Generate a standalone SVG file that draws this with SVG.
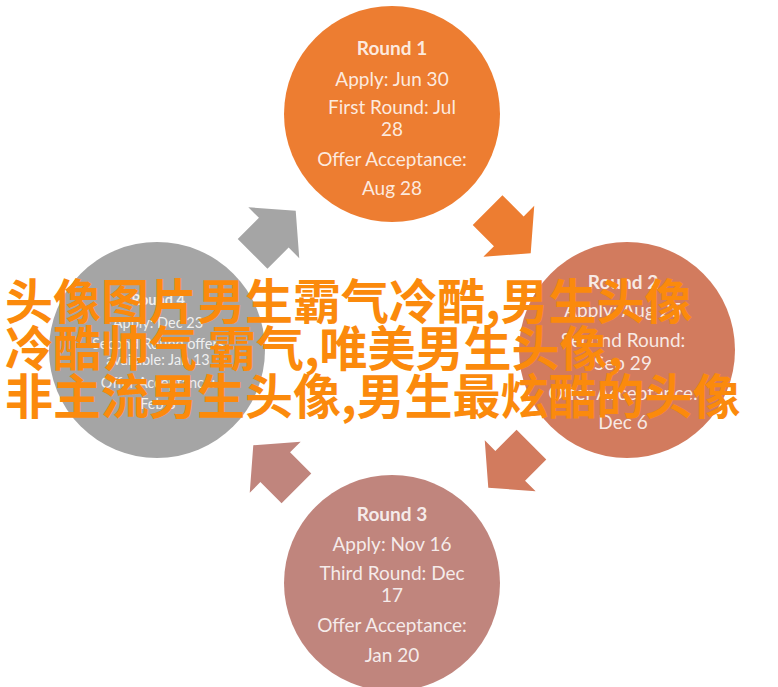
<svg xmlns="http://www.w3.org/2000/svg" width="778" height="687" viewBox="0 0 778 687">
<defs>
<style>
.t{font-family:Lato,"Liberation Sans",sans-serif;font-size:19px;fill:#ffffff;fill-opacity:0.85;text-anchor:middle}
.h{font-weight:bold;font-size:19px}
.s{font-size:14.5px}
.hs{font-weight:bold;font-size:14.5px}
.cn{font-family:"Noto Sans CJK SC","Noto Sans CJK JP",sans-serif;font-weight:bold;font-size:48px;fill:#fb8a0c}
</style>
<path id="arr" d="M-31,-21 L-1,-21 L-1,-36 L30,0 L-1,36 L-1,21 L-31,21 Z"/>
</defs>
<rect width="778" height="687" fill="#ffffff"/>
<g id="connectors">
<use href="#arr" fill="#a5a5a5" transform="translate(274.5,232) rotate(-45)"/>
<use href="#arr" fill="#ed7d31" transform="translate(509.5,232) rotate(45)"/>
<use href="#arr" fill="#d27b5e" transform="translate(509.5,466.5) rotate(135)"/>
<use href="#arr" fill="#c0857d" transform="translate(274.5,466.5) rotate(-135)"/>
</g>
<g id="round1">
<circle cx="392" cy="114" r="108" fill="#ed7d31"/>
<text class="t h" x="392" y="55">Round 1</text>
<text class="t" x="392" y="86">Apply: Jun 30</text>
<text class="t" x="392" y="114">First Round: Jul</text>
<text class="t" x="392" y="136">28</text>
<text class="t" x="392" y="166">Offer Acceptance:</text>
<text class="t" x="392" y="195">Aug 28</text>
</g>
<g id="round2">
<circle cx="627" cy="350" r="108" fill="#d27b5e"/>
<text class="t h" x="623" y="289">Round 2</text>
<text class="t" x="623" y="317">Apply: Aug 25</text>
<text class="t" x="623" y="347">Second Round:</text>
<text class="t" x="623" y="370">Sep 29</text>
<text class="t" x="623" y="400">Offer Acceptance:</text>
<text class="t" x="623" y="429">Dec 6</text>
</g>
<g id="round3">
<circle cx="392" cy="583" r="108" fill="#c0857d"/>
<text class="t h" x="392" y="521">Round 3</text>
<text class="t" x="392" y="551">Apply: Nov 16</text>
<text class="t" x="392" y="580">Third Round: Dec</text>
<text class="t" x="392" y="602">17</text>
<text class="t" x="392" y="632">Offer Acceptance:</text>
<text class="t" x="392" y="662">Jan 20</text>
</g>
<g id="round4">
<circle cx="157" cy="350" r="108" fill="#a5a5a5"/>
<text class="t hs" x="158" y="305">Round 4</text>
<text class="t s" x="158" y="328">Apply: Dec 23</text>
<text class="t s" x="158" y="349">Second Round offers</text>
<text class="t s" x="158" y="365">available: Jan 13</text>
<text class="t s" x="158" y="388">Offer Acceptance:</text>
<text class="t s" x="158" y="409">Feb 3</text>
</g>
<g id="overlay">
<text class="cn" x="5" y="319">头像图片男生霸气冷酷,男生头像</text>
<text class="cn" x="5" y="366">冷酷帅气 霸气,唯美男生头像,</text>
<text class="cn" x="5" y="414">非主流男生头像,男生最炫酷的头像</text>
</g>
</svg>
